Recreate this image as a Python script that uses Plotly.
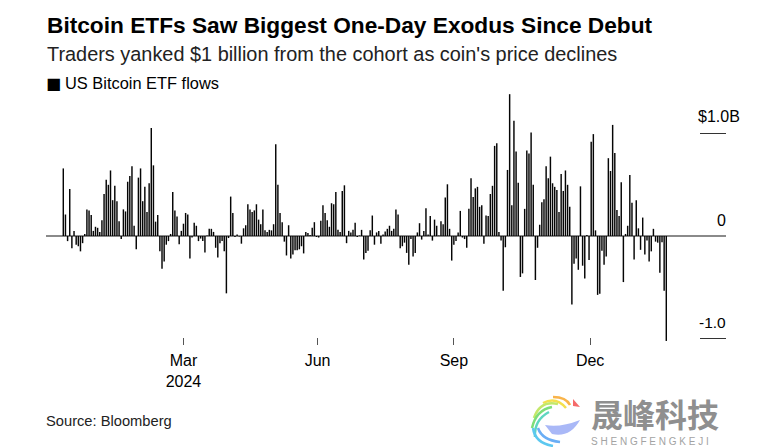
import plotly.graph_objects as go

# daily net flows, $ billions
flows = [
    .66, .21, -.05, .46, -.12, .05, -.085, -.10, -.15, -.07, .02, .26, .25, .205, .05, .09, .08, .04, .155, .41,
    .55, .50, .64, .35, .49, .34, .145, -.03, .26, .24, .53, .585, .68, .10, -.13, .57, .66, .34, .48, .235,
    .515, 1.055, .69, .14, .205, -.15, -.32, -.25, -.085, -.05, .02, .43, .25, .19, -.08, .05, .12, .225, .21, -.22,
    -.015, .13, .10, -.05, -.025, -.05, -.16, .005, .07, .07, .04, -.115, -.21,
    -.07, -.05, -.15, -.56, -.02, .385, .225, -.01, .015, -.005, -.075, .075, .105, .31, .26, .235, .25, .31, .16, .115,
    .26, .055, .04, .06, .055, .115, .895, .50, .225, .135, -.055, -.19, .105, -.22, -.18, -.14, -.14, -.13, -.10, -.17,
    .04, .03, .01, .08, .135, -.01, -.015, .15, .30, .225, .155, .09, .32, .31, .43, .06, .04, .44, .495, -.07, .05,
    .035, .06, .13, -.01, .005, .06, -.23, -.165, -.145, .055, .20, -.085, .035, .05,
    -.075, .015, .045, .07, .10, .05, .07, .26, .21, -.12, -.10, -.065, -.165, -.28, -.03, -.20, -.165, .035, .125, -.035,
    .05, .27, .015, .195, -.045, .16, .10, .005, .145, .115, .375, .505, .07, -.24, -.085, -.05, .035, .245, -.015, -.03,
    -.115, .265, .565, .38, .465, .48, .285, .30, -.075, .20, .195, .41, .49, .88, .905, .04, -.045, -.535, -.11, .645,
    1.385, .30, 1.125, .825, .52, -.40, -.365, .265, .835, .805, 1.01, .50, -.43, -.115, .11, .33, .36, .68, .565,
    .775, .515, .48, .45, .235, .605, .44, .64, .50, .285, -.67, -.27, -.22, -.33, .485, -.29, -.415, .01, -.235, .92,
    .995, .055, -.575, -.565, -.145, -.28, -.20, .76, .635, 1.085, .81, .255, .195, .525, -.45, .02, .10, .595, .325,
    -.23, .35, .075, -.135, .18, -.18, -.045, -.25, -.15, .07, -.055, -.065, -.36, -.06, -.535, -1.025,
]
days = list(range(len(flows)))

month_pos = [56, 118.5, 182, 245.5]
month_labels = ["Mar<br>2024", "Jun", "Sep", "Dec"]

W, H = 780, 447
L, R, T, B = 46, 726, 90, 345

fig = go.Figure()
# slightly under full opacity so plotly doesn't snap the thin bars to whole pixels
fig.add_trace(go.Bar(x=days, y=flows, width=.68, marker=dict(color="rgba(0,0,0,0.98)", line_width=0), showlegend=False))

# same px-per-day as the picture: first bar at 63.3, last at 666.3
step = (666.3 - 63.3) / (len(flows) - 1)
xr = [(L - 63.3) / step, (R - 63.3) / step]
# 1.0 = 102.4 px around zero line at y=236
yr = [(236 - B) / 102.4, (236 - T) / 102.4]

fig.update_layout(
    width=W, height=H, autosize=False,
    margin=dict(l=L, r=W - R, t=T, b=H - B, autoexpand=False),
    paper_bgcolor="white", plot_bgcolor="white",
    font=dict(family="Liberation Sans", color="#000000"),
)
fig.update_xaxes(range=xr, tickmode="array", tickvals=month_pos, ticktext=month_labels,
                 ticks="inside", ticklen=7, tickcolor="#555555", tickwidth=1,
                 showgrid=False, zeroline=False, showline=False,
                 tickfont=dict(size=16), ticklabelstandoff=4)
fig.update_yaxes(range=yr, side="right", tickmode="array", tickvals=[-1, 1], showticklabels=False,
                 ticks="inside", ticklen=26, tickcolor="#333333", tickwidth=1,
                 showgrid=False, showline=False,
                 zeroline=True, zerolinecolor="#8a8a8a", zerolinewidth=1.5)


def label(x, y, text, size, color="#000000", anchor="left", family=None, bold=False):
    t = f"<b>{text}</b>" if bold else text
    fig.add_annotation(xref="paper", yref="paper", x=(x - L) / (R - L), y=(B - y) / (B - T), text=t,
                       showarrow=False, xanchor=anchor, yanchor="middle",
                       font=dict(size=size, color=color, family=family or "Liberation Sans"))


label(45, 25, "Bitcoin ETFs Saw Biggest One-Day Exodus Since Debut", 22.7, bold=True)
label(44.5, 54, "Traders yanked $1 billion from the cohort as coin's price declines", 19.9, color="#222222")
label(44, 83, "■", 16, family="DejaVu Sans")
label(63, 83, "US Bitcoin ETF flows", 16.4)
label(742.5, 117, "$1.0B", 16, anchor="right")
label(727.5, 220, "0", 16, anchor="right")
label(728, 322, "-1.0", 15.5, anchor="right")
label(44, 421, "Source: Bloomberg", 14.7, color="#222222")
label(589, 412.5, "晟峰科技", 32, color="#8f8f8f", family="Noto Sans CJK SC", bold=True)
label(589, 441, "S H E N G F E N G K E J I", 10, color="#a3a3a3")


# watermark swirl, pixel coords converted to paper
def pt(x, y):
    return f"{(x - L) / (R - L):.4f} {(B - y) / (B - T):.4f}"


swirl = [
    ("#f9b44a", (570, 405), (566, 397), (553, 397)),
    ("#f4e04d", (566, 408), (556, 396), (543, 403)),
    ("#c4e86a", (558, 404), (540, 400), (534, 418)),
    ("#7ede7a", (552, 407), (536, 410), (532, 428)),
    ("#5fd6c0", (549, 412), (534, 420), (535, 437)),
    ("#5cc8f0", (533, 428), (535, 443), (553, 446)),
    ("#6aaef5", (538, 428), (542, 440), (560, 442)),
]
for color, a, c, b in swirl:
    fig.add_shape(type="path", xref="paper", yref="paper", path=f"M{pt(*a)} Q{pt(*c)} {pt(*b)}",
                  line=dict(color=color, width=2.5))
fig.add_shape(type="path", xref="paper", yref="paper", line_width=0, fillcolor="#f56a6a",
              path=f"M{pt(573, 399)} L{pt(580, 407)} L{pt(573, 406)} Z")
fig.add_shape(type="path", xref="paper", yref="paper", line_width=0, fillcolor="#a9b8f7",
              path=f"M{pt(545, 425)} Q{pt(560, 428)} {pt(580, 420)} Q{pt(570, 438)} {pt(552, 434)} Z")

fig.write_html("out.html", post_script="document.body.style.margin='0';", config={"displayModeBar": False})
